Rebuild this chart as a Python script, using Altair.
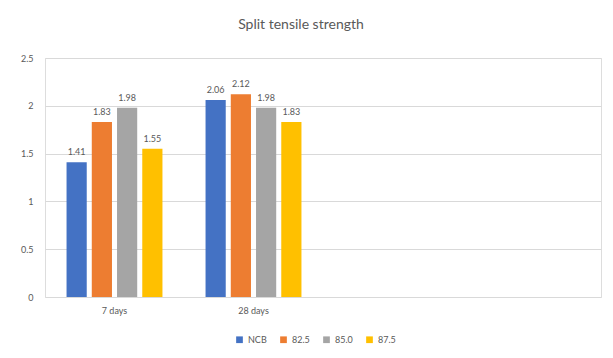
import altair as alt
import pandas as pd

categories = ["7 days", "28 days"]
series = ["NCB", "82.5", "85.0", "87.5"]
values = {
    "NCB": [1.41, 2.06],
    "82.5": [1.83, 2.12],
    "85.0": [1.98, 1.98],
    "87.5": [1.55, 1.83],
}
colors = ["#4472C4", "#ED7D31", "#A5A5A5", "#FFC000"]
y_ticks = [0, 0.5, 1, 1.5, 2, 2.5]
x_domain = categories + ["_a", "_b"]

rows = []
for s in series:
    for c, v in zip(categories, values[s]):
        rows.append({"period": c, "mix": s, "value": v})
df = pd.DataFrame(rows)

FONT = "Lato"
GREY = "#595959"

x_enc = alt.X(
    "period:N",
    scale=alt.Scale(domain=x_domain, paddingInner=0.31, paddingOuter=0.155),
    axis=alt.Axis(
        title=None, labelAngle=0, domain=False, ticks=False,
        labelPadding=9, labelFontSize=9, labelColor=GREY, labelFont=FONT,
        labelExpr="(datum.label == '_a' || datum.label == '_b') ? '' : datum.label",
    ),
)
xoff = alt.XOffset("mix:N", sort=series, scale=alt.Scale(paddingInner=0.2, paddingOuter=0))
y_enc = alt.Y(
    "value:Q",
    scale=alt.Scale(domain=[0, 2.5], nice=False),
    axis=alt.Axis(
        title=None, values=y_ticks, format=".1~f", domain=False, ticks=False,
        labelPadding=12, labelFontSize=9, labelColor=GREY, labelFont=FONT,
        gridColor="#D9D9D9", gridWidth=1,
    ),
)

base = alt.Chart(df)
bars = base.mark_bar().encode(
    x=x_enc,
    xOffset=xoff,
    y=y_enc,
    color=alt.Color(
        "mix:N", sort=series,
        scale=alt.Scale(domain=series, range=colors),
        legend=alt.Legend(
            title=None, orient="none", direction="horizontal",
            legendX=190, legendY=277, symbolType="square", symbolSize=45,
            labelFontSize=9, labelColor=GREY, labelFont=FONT,
            columnPadding=12, symbolStrokeWidth=0,
        ),
    ),
)
labels = base.mark_text(
    baseline="bottom", dy=-5, fontSize=9, color=GREY, font=FONT
).encode(
    x=x_enc,
    xOffset=xoff,
    y=y_enc,
    text=alt.Text("value:Q", format=".2f"),
)

chart = alt.layer(bars, labels).properties(
    width=556,
    height=239,
    title=alt.TitleParams(
        "Split tensile strength", fontSize=14, font=FONT, fontWeight="normal",
        color=GREY, anchor="middle", dx=-22, offset=22,
    ),
    autosize=alt.AutoSizeParams(type="none"),
    padding={"left": 45, "top": 58, "right": 12, "bottom": 61},
).configure_view(stroke=None).configure(background="white")

chart.save("out.html", embed_options={"renderer": "svg", "actions": False})
